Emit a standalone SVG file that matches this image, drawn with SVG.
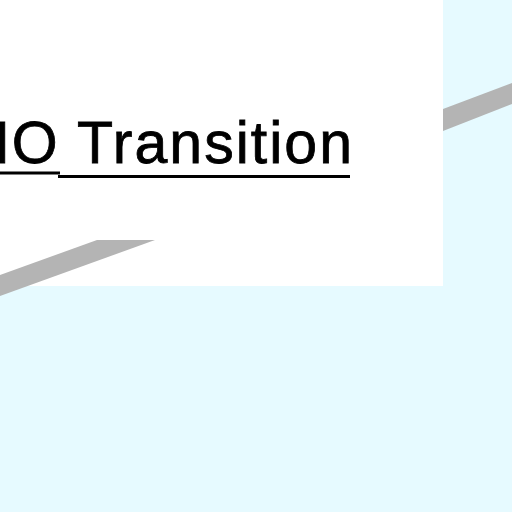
<svg xmlns="http://www.w3.org/2000/svg" width="512" height="512" viewBox="0 0 512 512">
<style>
.band{fill:#b4b4b4}
.title{font-family:"Liberation Sans",Arial,sans-serif;font-size:59px;fill:#000;stroke:#000;stroke-width:0.8}
.ul{stroke:#000;stroke-width:3}
</style>
<rect x="0" y="0" width="512" height="512" fill="#e6faff"/>
<g id="connectors">
<polygon class="band" points="443,109 512,83 512,104 443,131"/>
</g>
<g id="panel">
<rect x="0" y="0" width="443" height="286" fill="#ffffff"/>
<polygon class="band" points="0,275 97,240 155,240 0,296"/>
</g>
<g id="title">
<text class="title" x="-33" y="163" textLength="385">HO Transition</text>
<line class="ul" x1="0" y1="173" x2="60" y2="173"/>
<line class="ul" x1="58" y1="176.5" x2="350" y2="176.5"/>
</g>
</svg>
